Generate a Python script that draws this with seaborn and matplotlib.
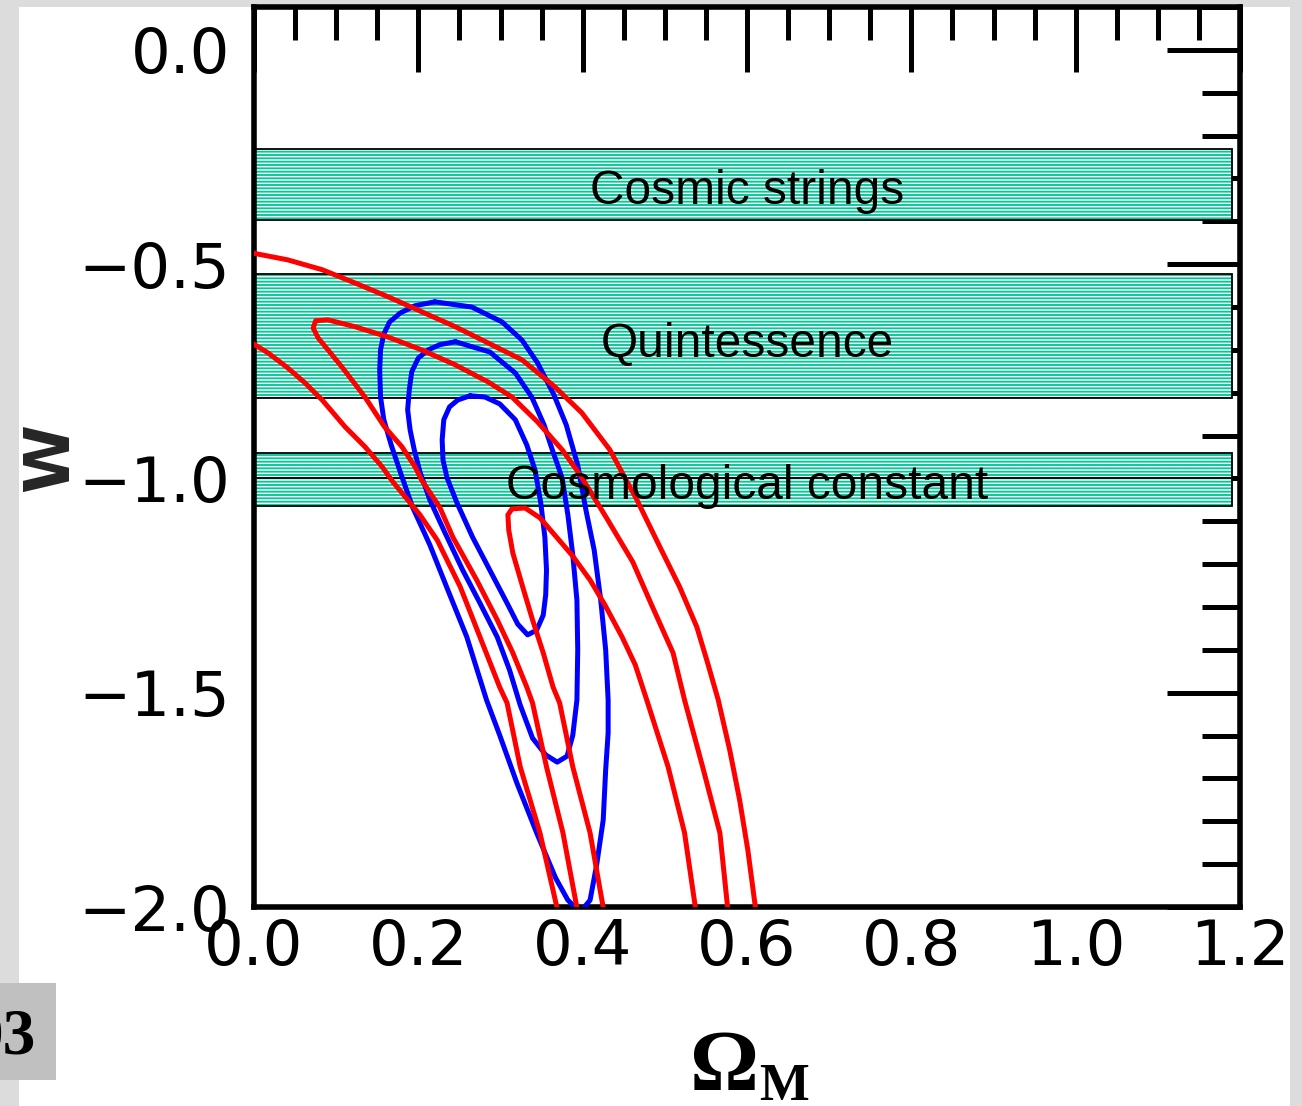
import matplotlib
matplotlib.use("Agg")
import matplotlib.pyplot as plt
from matplotlib.patches import Rectangle
from matplotlib.ticker import MultipleLocator, FuncFormatter
import seaborn as sns

# ---- confidence contours in the (Omega_M, w) plane ----
blue_inner_om = [0.263, 0.248, 0.238, 0.231, 0.229, 0.230, 0.235, 0.247, 0.266, 0.287, 0.308, 0.321,
                 0.333, 0.344, 0.352, 0.355, 0.356, 0.354, 0.349, 0.342, 0.332, 0.318, 0.299, 0.281, 0.263]
blue_inner_w = [-0.807, -0.817, -0.833, -0.863, -0.910, -0.957, -0.999, -1.057, -1.137, -1.214, -1.291, -1.340,
                -1.365, -1.354, -1.319, -1.272, -1.214, -1.137, -1.057, -0.980, -0.922, -0.863, -0.826, -0.810, -0.807]

blue_mid_om = [0.245, 0.226, 0.212, 0.200, 0.192, 0.189, 0.187, 0.190, 0.195, 0.202, 0.214, 0.232, 0.254,
               0.275, 0.296, 0.311, 0.324, 0.339, 0.355, 0.369, 0.381, 0.388, 0.393, 0.394, 0.393, 0.388,
               0.382, 0.375, 0.363, 0.353, 0.338, 0.318, 0.287, 0.245]
blue_mid_w = [-0.681, -0.688, -0.700, -0.719, -0.751, -0.793, -0.840, -0.887, -0.933, -0.985, -1.050, -1.125,
              -1.214, -1.291, -1.370, -1.447, -1.529, -1.606, -1.645, -1.662, -1.648, -1.599, -1.517, -1.400,
              -1.284, -1.179, -1.085, -0.999, -0.933, -0.875, -0.810, -0.754, -0.705, -0.681]

blue_outer_om = [0.220, 0.196, 0.178, 0.165, 0.158, 0.154, 0.153, 0.154, 0.158, 0.167, 0.178, 0.193, 0.214,
                 0.235, 0.259, 0.283, 0.299, 0.320, 0.344, 0.367, 0.382, 0.397, 0.409, 0.417, 0.425, 0.428,
                 0.431, 0.431, 0.428, 0.422, 0.414, 0.404, 0.394, 0.380, 0.365, 0.345, 0.326, 0.302, 0.265, 0.220]
blue_outer_w = [-0.588, -0.597, -0.614, -0.635, -0.663, -0.700, -0.747, -0.810, -0.863, -0.922, -0.985, -1.067,
                -1.155, -1.256, -1.370, -1.517, -1.599, -1.711, -1.827, -1.932, -1.984, -2.012, -1.984, -1.902,
                -1.797, -1.680, -1.594, -1.517, -1.400, -1.284, -1.167, -1.074, -0.969, -0.875, -0.805, -0.730,
                -0.677, -0.635, -0.600, -0.588]

red_inner_om = [0.426, 0.409, 0.388, 0.372, 0.364, 0.352, 0.339, 0.327, 0.315, 0.310, 0.309, 0.314,
                0.330, 0.348, 0.366, 0.387, 0.409, 0.427, 0.448, 0.464, 0.478, 0.491, 0.504, 0.524, 0.538]
red_inner_w = [-2.012, -1.827, -1.673, -1.524, -1.487, -1.407, -1.330, -1.253, -1.174, -1.120, -1.085, -1.071,
               -1.069, -1.092, -1.132, -1.179, -1.237, -1.295, -1.370, -1.435, -1.517, -1.595, -1.673, -1.827,
               -2.012]

red_mid_om = [0.394, 0.376, 0.356, 0.339, 0.332, 0.315, 0.296, 0.271, 0.242, 0.226, 0.204, 0.196, 0.180,
              0.159, 0.135, 0.107, 0.090, 0.078, 0.072, 0.075, 0.090, 0.123, 0.163, 0.204, 0.245, 0.285,
              0.314, 0.345, 0.375, 0.397, 0.429, 0.461, 0.485, 0.510, 0.524, 0.546, 0.567, 0.577]
red_mid_w = [-2.012, -1.827, -1.673, -1.524, -1.487, -1.407, -1.330, -1.237, -1.137, -1.067, -1.004, -0.973,
             -0.926, -0.880, -0.810, -0.740, -0.700, -0.672, -0.649, -0.632, -0.630, -0.646, -0.670, -0.700,
             -0.735, -0.775, -0.810, -0.868, -0.933, -0.992, -1.092, -1.195, -1.300, -1.407, -1.517, -1.673,
             -1.827, -2.012]

red_outer_om = [0.370, 0.348, 0.324, 0.308, 0.299, 0.275, 0.251, 0.223, 0.202, 0.184, 0.169, 0.156, 0.135,
                0.111, 0.083, 0.062, 0.041, 0.017, -0.010, -0.010, 0.041, 0.083, 0.123, 0.163, 0.204, 0.245,
                0.285, 0.326, 0.366, 0.399, 0.433, 0.466, 0.494, 0.518, 0.539, 0.552, 0.565, 0.579, 0.591,
                0.601, 0.611]
red_outer_w = [-2.012, -1.827, -1.673, -1.524, -1.487, -1.370, -1.253, -1.144, -1.085, -1.043, -1.008, -0.973,
               -0.926, -0.880, -0.817, -0.777, -0.742, -0.707, -0.675, -0.471, -0.490, -0.513, -0.544, -0.576,
               -0.611, -0.646, -0.684, -0.723, -0.786, -0.847, -0.933, -1.050, -1.160, -1.253, -1.347, -1.430,
               -1.517, -1.634, -1.750, -1.867, -2.012]

# ---- dark-energy model bands ----
band_labels = ["Cosmic strings", "Quintessence", "Cosmological constant"]
band_top = [-0.231, -0.523, -0.940]
band_bottom = [-0.397, -0.812, -1.064]
band_label_w = [-0.359, -0.716, -1.048]
band_label_om = 0.6
band_right = 1.19
lambda_w = -1.0

BAND_COLOR = "#00c896"
W_PX, H_PX = 1302, 1106

sns.set_theme(style="white")
plt.rcParams["font.family"] = ["DejaVu Sans"]
plt.rcParams["text.color"] = "black"
plt.rcParams["xtick.color"] = "black"
plt.rcParams["ytick.color"] = "black"
plt.rcParams["axes.edgecolor"] = "black"
plt.rcParams["hatch.linewidth"] = 1.35
plt.rcParams["hatch.color"] = BAND_COLOR

fig = plt.figure(figsize=(W_PX / 100, H_PX / 100), dpi=100, facecolor="#dcdcdc")
fig.add_artist(Rectangle((19 / W_PX, 0), (1290 - 19) / W_PX, (H_PX - 7) / H_PX,
                         transform=fig.transFigure, facecolor="white", edgecolor="none", zorder=-10))
fig.add_artist(Rectangle((0, (H_PX - 1080) / H_PX), 56 / W_PX, 97 / H_PX,
                         transform=fig.transFigure, facecolor="#c0c0c0", edgecolor="none", zorder=-5))
fig.text(36 / W_PX, (H_PX - 1053) / H_PX, "03", ha="right", va="baseline", fontsize=47,
         family="Liberation Serif", weight="bold")

ax = fig.add_axes([254 / W_PX, (H_PX - 907) / H_PX, 986 / W_PX, 900 / H_PX])
ax.set_facecolor("white")

for lo, hi in zip(band_bottom, band_top):
    ax.add_patch(Rectangle((0, lo), band_right, hi - lo, facecolor="white", edgecolor=BAND_COLOR,
                           hatch="-----", linewidth=0, zorder=1))
    ax.add_patch(Rectangle((0, lo), band_right, hi - lo, fill=False, edgecolor="black",
                           linewidth=1.3, zorder=1.5))
ax.hlines(lambda_w, 0, band_right, color="black", linewidth=1.3, zorder=1.5)

for om, w in [(blue_inner_om, blue_inner_w), (blue_mid_om, blue_mid_w), (blue_outer_om, blue_outer_w)]:
    sns.lineplot(x=om, y=w, sort=False, estimator=None, color="#0000ff", linewidth=3.6, ax=ax, zorder=3)
for om, w in [(red_inner_om, red_inner_w), (red_mid_om, red_mid_w), (red_outer_om, red_outer_w)]:
    sns.lineplot(x=om, y=w, sort=False, estimator=None, color="#ff0000", linewidth=3.6, ax=ax, zorder=3.5)

for label, yw in zip(band_labels, band_label_w):
    ax.text(band_label_om, yw, label, ha="center", va="baseline", fontsize=34.5,
            family="Liberation Sans", color="black", zorder=5)

ax.set_xlim(0, 1.2)
ax.set_ylim(-2.0, 0.1)

def fmt(v, _):
    if abs(v) < 1e-9:
        v = 0.0
    return f"{v:.1f}".replace("-", "\u2212")

ax.xaxis.set_major_locator(MultipleLocator(0.2))
ax.xaxis.set_minor_locator(MultipleLocator(0.05))
ax.yaxis.set_major_locator(MultipleLocator(0.5))
ax.yaxis.set_minor_locator(MultipleLocator(0.1))
ax.xaxis.set_major_formatter(FuncFormatter(fmt))
ax.yaxis.set_major_formatter(FuncFormatter(fmt))

ax.tick_params(which="both", direction="in", top=True, right=True, width=3.6, color="black")
ax.tick_params(axis="x", which="major", length=47, labelsize=45, pad=8)
ax.tick_params(axis="x", which="minor", length=24)
ax.tick_params(axis="y", which="major", length=52.5, labelsize=45, pad=17)
ax.tick_params(axis="y", which="minor", length=27.5)
for sp in ax.spines.values():
    sp.set_linewidth(4)
    sp.set_color("black")

ax.set_xlabel("")
ax.set_ylabel("W", fontsize=45, fontweight="bold", va="baseline")
ax.yaxis.set_label_coords((68 - 254) / 986, (907 - 458) / 900)

fig.text(690 / W_PX, (H_PX - 1090) / H_PX, "\u03a9", ha="left", va="baseline", fontsize=62,
         family="Liberation Serif", weight="bold")
fig.text(759 / W_PX, (H_PX - 1100) / H_PX, "M", ha="left", va="baseline", fontsize=38,
         family="Liberation Serif", weight="bold")

fig.savefig("out.png", dpi=100, facecolor=fig.get_facecolor())
